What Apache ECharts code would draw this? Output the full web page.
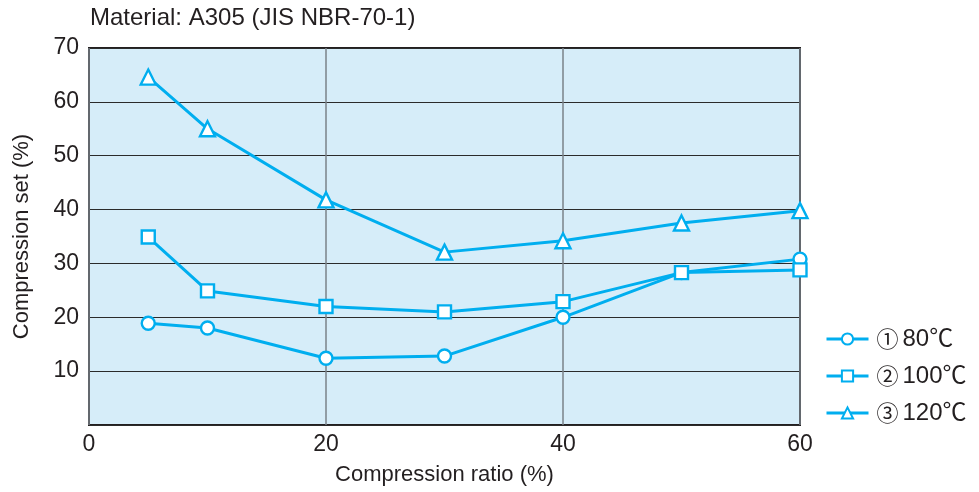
<!DOCTYPE html>
<html>
<head>
<meta charset="utf-8">
<script src="https://cdn.jsdelivr.net/npm/echarts@6/dist/echarts.min.js"></script>
<style>
  html, body { margin: 0; padding: 0; background: #fff; }
  #chart { width: 979px; height: 492px; }
</style>
</head>
<body>
<div id="chart"></div>
<script>
// Compression ratio (%) for each measurement
const ratios = [5, 10, 20, 30, 40, 50, 60];
// Compression set (%) at each temperature
const set80 = [18.9, 18.0, 12.4, 12.8, 20.0, 28.3, 30.8];
const set100 = [34.9, 24.9, 22.0, 21.0, 22.9, 28.3, 28.8];
const set120 = [64.6, 55.0, 41.8, 32.1, 34.2, 37.5, 39.8];
const seriesMarks = ['\u2460', '\u2461', '\u2462'];
const seriesTemps = ['80\u2103', '100\u2103', '120\u2103'];
const seriesNames = seriesMarks.map((m, i) => m + seriesTemps[i]);

const lineColor = '#00aeef';
const textColor = '#231f20';
const fontFam = '"Liberation Sans", Arial, "Noto Sans CJK JP", sans-serif';

function pairs(vals) {
  return ratios.map((x, i) => [x, vals[i]]);
}

function makeSeries(name, vals, symbol, size) {
  return {
    name: name,
    type: 'line',
    data: pairs(vals),
    symbol: symbol,
    symbolSize: size,
    showAllSymbol: true,
    lineStyle: { color: lineColor, width: 3 },
    itemStyle: { color: '#ffffff', borderColor: lineColor, borderWidth: 2.4 },
    emphasis: { disabled: true },
    z: 3
  };
}

const chart = echarts.init(document.getElementById('chart'), null, { renderer: 'canvas' });
chart.setOption({
  animation: false,
  backgroundColor: '#ffffff',
  title: {
    text: 'Material: A305 (JIS NBR-70-1)',
    left: 85,
    top: 1,
    textStyle: { fontFamily: fontFam, fontSize: 24, fontWeight: 'normal', color: textColor }
  },
  legend: {
    orient: 'vertical',
    left: 820,
    top: 322,
    itemWidth: 42,
    itemHeight: 14,
    itemGap: 13,
    data: seriesNames,
    lineStyle: { width: 3 },
    formatter: name => {
      const i = seriesNames.indexOf(name);
      return '{m|' + seriesMarks[i] + '}{t|' + seriesTemps[i] + '}';
    },
    textStyle: {
      color: textColor,
      padding: [0, 0, 0, 3],
      rich: {
        m: { fontFamily: '"Noto Sans CJK JP", sans-serif', fontSize: 22, color: textColor, padding: [0, 4, 0, 0] },
        t: { fontFamily: fontFam, fontSize: 24, color: textColor }
      }
    }
  },
  grid: {
    left: 89,
    right: 179,
    top: 48,
    bottom: 67,
    show: true,
    backgroundColor: '#d6edf9',
    borderColor: textColor,
    borderWidth: 2
  },
  xAxis: {
    type: 'value',
    min: 0,
    max: 60,
    interval: 20,
    name: 'Compression ratio (%)',
    nameLocation: 'middle',
    nameGap: 39,
    nameTextStyle: { fontFamily: fontFam, fontSize: 22, color: textColor },
    axisLine: { show: false },
    axisTick: { show: false },
    axisLabel: { fontFamily: fontFam, fontSize: 23, color: textColor, margin: 8 },
    splitLine: { show: true, lineStyle: { color: '#7a8288', width: 1.5 } }
  },
  yAxis: {
    type: 'value',
    min: 0,
    max: 70,
    interval: 10,
    name: 'Compression set (%)',
    nameLocation: 'middle',
    nameGap: 56,
    nameTextStyle: { fontFamily: fontFam, fontSize: 22, color: textColor },
    axisLine: { show: false },
    axisTick: { show: false },
    axisLabel: {
      fontFamily: fontFam, fontSize: 23, color: textColor, margin: 10,
      formatter: v => (v === 0 ? '' : String(v))
    },
    splitLine: { show: true, lineStyle: { color: '#2b2b2b', width: 1.2 } }
  },
  series: [
    makeSeries(seriesNames[0], set80, 'circle', 13),
    makeSeries(seriesNames[1], set100, 'rect', 13),
    makeSeries(seriesNames[2], set120, 'triangle', 15)
  ]
});
</script>
</body>
</html>
